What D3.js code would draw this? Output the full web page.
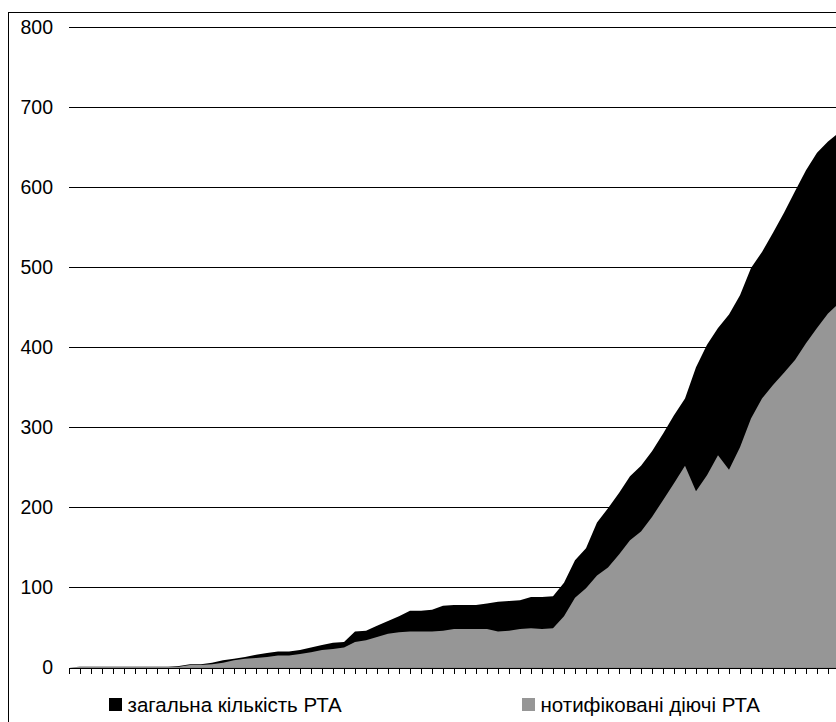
<!DOCTYPE html>
<html>
<head>
<meta charset="utf-8">
<script src="https://cdn.jsdelivr.net/npm/d3@7"></script>
<style>
  body { margin: 0; background: #fff; }
  svg { display: block; font-family: "Liberation Sans", Arial, sans-serif; }
</style>
</head>
<body>
<script>
const svgWidth = 836;
const svgHeight = 722;

// total number of RTAs (black) and notified RTAs in force (grey), one value per year
const totalRTA = [0, 1, 1, 1, 1, 1, 1, 1, 1, 1, 2, 4, 4, 6, 9, 11, 13, 16, 18, 20,
    20, 22, 25, 28, 31, 32, 45, 46, 52, 58, 64, 71, 71, 72, 77, 78, 78, 78, 80, 82,
    83, 84, 88, 88, 89, 106, 134, 149, 181, 199, 218, 239, 252, 270, 292, 315, 336, 375, 403, 424,
    441, 465, 499, 519, 543, 568, 595, 621, 643, 657, 668];
const inForceRTA = [0, 1, 1, 1, 1, 1, 1, 1, 1, 1, 1, 3, 3, 4, 6, 9, 11, 12, 13, 15,
    15, 17, 19, 22, 23, 25, 32, 34, 38, 42, 44, 45, 45, 45, 46, 48, 48, 48, 48, 45,
    46, 48, 49, 48, 49, 64, 87, 99, 115, 125, 141, 159, 170, 188, 209, 230, 252, 220, 240, 265,
    247, 275, 311, 336, 353, 368, 384, 405, 424, 442, 455];
const yTicks = [0, 100, 200, 300, 400, 500, 600, 700, 800];
const seriesNames = ['загальна кількість РТА', 'нотифіковані діючі РТА'];
const seriesColors = ['#000000', '#969696'];

const plotLeft = 69, plotRight = 839, plotTop = 27, plotBottom = 667.5;

const x = d3.scaleLinear().domain([0, totalRTA.length - 1]).range([plotLeft, plotRight]);
const y = d3.scaleLinear().domain([0, 800]).range([plotBottom, plotTop]);

const svg = d3.select('body').append('svg').attr('width', svgWidth).attr('height', svgHeight);

// chart border
svg.append('rect').attr('x', 8.5).attr('y', 12.5).attr('width', 900).attr('height', 800)
    .style('fill', 'none').style('stroke', '#000');

// gridlines + y labels
const yAxis = svg.append('g').attr('transform', `translate(${plotLeft},0)`)
    .call(d3.axisLeft(y).tickValues(yTicks).tickSize(-(plotRight - plotLeft)).tickPadding(16));
yAxis.select('.domain').remove();
yAxis.selectAll('line').attr('stroke', '#000').attr('shape-rendering', 'crispEdges');
yAxis.selectAll('text').style('font-size', '19.5px').style('fill', '#000').attr('font-family', null);

// areas: total behind, in-force in front
const series = [totalRTA, inForceRTA];
series.forEach((values, k) => {
    const area = d3.area().x((d, i) => x(i)).y0(y(0)).y1(d => y(d));
    svg.append('path').datum(values).attr('d', area).style('fill', seriesColors[k]);
});

// category axis
const xAxis = svg.append('g').attr('transform', `translate(0,${plotBottom})`)
    .call(d3.axisBottom(x).tickValues(d3.range(totalRTA.length)).tickFormat('').tickSize(6).tickSizeOuter(0));
xAxis.select('.domain').attr('stroke', '#000').attr('shape-rendering', 'crispEdges');
xAxis.selectAll('line').attr('stroke', '#000').attr('shape-rendering', 'crispEdges');

// legend
const legendPos = [{sx: 109, tx: 127.5}, {sx: 522, tx: 540.5}];
seriesNames.forEach((name, k) => {
    svg.append('rect').attr('x', legendPos[k].sx).attr('y', 698).attr('width', 13).attr('height', 13)
        .style('fill', seriesColors[k]);
    svg.append('text').attr('x', legendPos[k].tx).attr('y', 711.5).text(name)
        .style('font-size', '20.5px').style('fill', '#000');
});
</script>
</body>
</html>
